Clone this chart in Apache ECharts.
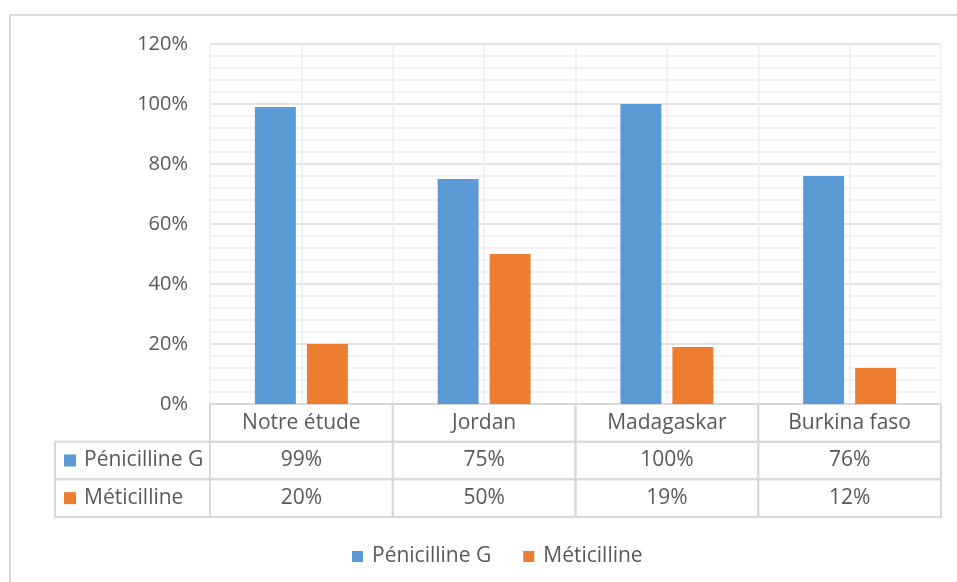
<!DOCTYPE html>
<html>
<head>
<meta charset="utf-8">
<script src="https://cdn.jsdelivr.net/npm/echarts@6/dist/echarts.min.js"></script>
<style>
  html, body { margin: 0; padding: 0; background: #fff; }
  #chart { width: 957px; height: 582px; }
</style>
</head>
<body>
<div id="chart"></div>
<script>
// Resistance rates by study
const categories = ['Notre étude', 'Jordan', 'Madagaskar', 'Burkina faso'];
const seriesNames = ['Pénicilline G', 'Méticilline'];
const penicillineG = [0.99, 0.75, 1.00, 0.76];
const meticilline = [0.20, 0.50, 0.19, 0.12];
const seriesColors = ['#5b9bd5', '#ed7d31'];

const TEXT = '#595959';
const LINE = '#d9d9d9';
const MINOR = '#efefef';
const FONT = '"Open Sans", "Noto Sans", sans-serif';
const FS_AXIS = 20;
const FS = 21;

const pct = v => Math.round(v * 100) + '%';
const seriesValues = [penicillineG, meticilline];

// Data table cells: header row (categories) + one row per series
const tableCells = [];
const tableText = [];
categories.forEach((c, ci) => { tableCells.push([ci, 0]); tableText.push(c); });
seriesValues.forEach((vals, si) => {
  vals.forEach((v, ci) => { tableCells.push([ci, si + 1]); tableText.push(pct(v)); });
});
const legendCells = seriesNames.map((n, i) => [0, i]);

function cellRect(api) {
  const c = api.coord([api.value(0), api.value(1)]);
  const s = api.size([1, 1]);
  return { x: c[0] - s[0] / 2, y: c[1] - s[1] / 2, width: s[0], height: s[1], cx: c[0], cy: c[1] };
}

const chart = echarts.init(document.getElementById('chart'), null, { renderer: 'canvas' });
chart.setOption({
  backgroundColor: '#fff',
  animation: false,
  textStyle: { fontFamily: FONT },
  graphic: [{
    type: 'rect', z: -10,
    shape: { x: 10, y: 15, width: 960, height: 600 },
    style: { fill: 'none', stroke: LINE, lineWidth: 2 }
  }],
  legend: {
    data: seriesNames,
    left: 347, top: 541,
    icon: 'rect', itemWidth: 11, itemHeight: 11, itemGap: 32,
    textStyle: { color: TEXT, fontSize: FS, fontFamily: FONT, padding: [0, 0, 0, 4] }
  },
  grid: [
    { left: 210, right: 16, top: 44, height: 360 },
    { left: 210, right: 16, top: 404, height: 113 },
    { left: 55, width: 155, top: 404 + 113 / 3, height: 113 * 2 / 3 }
  ],
  xAxis: [
    { type: 'category', gridIndex: 0, data: categories,
      axisLine: { show: false }, axisTick: { show: false }, axisLabel: { show: false },
      splitLine: { show: false } },
    { type: 'value', gridIndex: 0, min: 0, max: categories.length * 2, interval: 1,
      axisLine: { show: false }, axisTick: { show: false }, axisLabel: { show: false },
      splitLine: { show: true, lineStyle: { color: MINOR, width: 1.5 } } },
    { type: 'category', gridIndex: 1, data: categories, show: false },
    { type: 'category', gridIndex: 2, data: ['name'], show: false }
  ],
  yAxis: [
    { type: 'value', gridIndex: 0, min: 0, max: 1.2, interval: 0.2, splitNumber: 6,
      axisLine: { show: false }, axisTick: { show: false },
      axisLabel: { formatter: v => pct(v), color: TEXT, fontSize: FS_AXIS, margin: 22 },
      splitLine: { lineStyle: { color: LINE, width: 1.5 } },
      minorTick: { show: false, splitNumber: 5 },
      minorSplitLine: { show: true, lineStyle: { color: MINOR, width: 1.5 } } },
    { type: 'category', gridIndex: 1, data: ['head'].concat(seriesNames), inverse: true, show: false },
    { type: 'category', gridIndex: 2, data: seriesNames, inverse: true, show: false }
  ],
  series: [
    { name: seriesNames[0], type: 'bar', xAxisIndex: 0, yAxisIndex: 0,
      data: penicillineG, barWidth: '22.4%', barGap: '27%',
      itemStyle: { color: seriesColors[0] } },
    { name: seriesNames[1], type: 'bar', xAxisIndex: 0, yAxisIndex: 0,
      data: meticilline, barWidth: '22.4%', barGap: '27%',
      itemStyle: { color: seriesColors[1] } },
    { type: 'custom', xAxisIndex: 2, yAxisIndex: 1, data: tableCells, silent: true,
      encode: { x: 0, y: 1 },
      renderItem: (params, api) => {
        const r = cellRect(api);
        return { type: 'group', children: [
          { type: 'rect', shape: { x: r.x, y: r.y, width: r.width, height: r.height },
            style: { fill: 'none', stroke: LINE, lineWidth: 2 } },
          { type: 'text', style: { text: tableText[params.dataIndex], x: r.cx, y: r.cy,
            align: 'center', verticalAlign: 'middle', fill: TEXT,
            font: FS + 'px ' + FONT } }
        ] };
      } },
    { type: 'custom', xAxisIndex: 3, yAxisIndex: 2, data: legendCells, silent: true,
      encode: { x: 0, y: 1 },
      renderItem: (params, api) => {
        const r = cellRect(api);
        const i = params.dataIndex;
        return { type: 'group', children: [
          { type: 'rect', shape: { x: r.x, y: r.y, width: r.width, height: r.height },
            style: { fill: 'none', stroke: LINE, lineWidth: 2 } },
          { type: 'rect', shape: { x: r.x + 9, y: r.cy - 6, width: 12, height: 12 },
            style: { fill: seriesColors[i] } },
          { type: 'text', style: { text: seriesNames[i], x: r.x + 29, y: r.cy,
            align: 'left', verticalAlign: 'middle', fill: TEXT,
            font: FS + 'px ' + FONT } }
        ] };
      } }
  ]
});
</script>
</body>
</html>
